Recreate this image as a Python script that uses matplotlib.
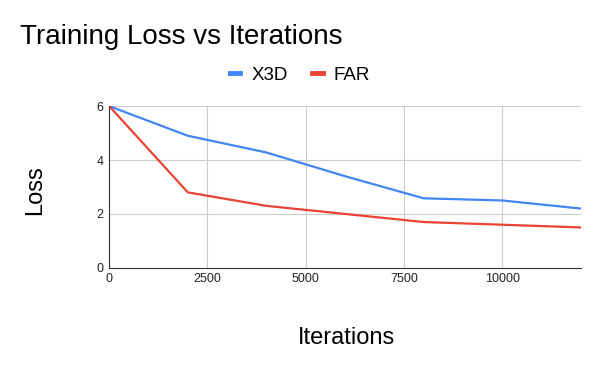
import numpy as np
import matplotlib.pyplot as plt

plt.rcParams['font.family'] = ['Liberation Sans', 'DejaVu Sans']

iterations = [0, 2000, 4000, 6000, 8000, 10000, 12000]
x3d_loss = [6.0, 4.9, 4.28, 3.4, 2.58, 2.5, 2.2]
far_loss = [6.0, 2.8, 2.3, 2.0, 1.7, 1.6, 1.5]
x_ticks = [0, 2500, 5000, 7500, 10000]
y_ticks = [0, 2, 4, 6]

fig = plt.figure(figsize=(6, 3.71), dpi=100)
ax = fig.add_axes([0.182, 0.278, 0.786, 0.436])

ax.plot(iterations, x3d_loss, color='#4285f4', lw=1.6, label='X3D')
ax.plot(iterations, far_loss, color='#ea4335', lw=1.6, label='FAR')

ax.set_xlim(0, 12000)
ax.set_ylim(0, 6)
ax.set_xticks(x_ticks)
ax.set_yticks(y_ticks)
ax.grid(True, color='#cccccc', lw=0.8)
ax.set_axisbelow(True)
for s in ['top', 'right']:
    ax.spines[s].set_visible(False)
ax.spines['left'].set_color('#333333')
ax.spines['bottom'].set_color('#333333')
ax.tick_params(length=0, labelsize=9, labelcolor='#222222', pad=4)

fig.text(20 / 600, 1 - 37 / 371, 'Training Loss vs Iterations', fontsize=20,
         ha='left', va='center')
ax.legend(loc='center', bbox_to_anchor=(0.5, 1 - 75 / 371), bbox_transform=fig.transFigure,
          ncol=2, frameon=False, fontsize=13.5, handlelength=0.55, handletextpad=0.6,
          columnspacing=1.3)
leg = ax.get_legend()
for line in leg.get_lines():
    line.set_linewidth(3.5)
fig.text(35 / 600, 1 - 190 / 371, 'Loss', fontsize=17, rotation=90, ha='center', va='center')
fig.text(346 / 600, 1 - 338 / 371, 'Iterations', fontsize=17, ha='center', va='center')

plt.savefig('out.png')
plt.close()
